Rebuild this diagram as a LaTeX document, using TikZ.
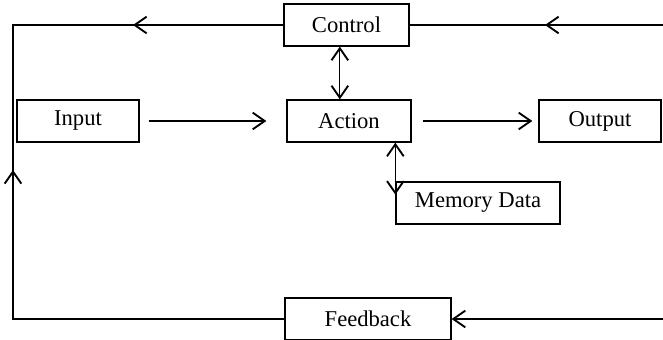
\documentclass[tikz,border=0pt]{standalone}
\usepackage{fontspec}
\setmainfont{Liberation Serif}
\usetikzlibrary{arrows.meta}

\begin{document}
\begin{tikzpicture}[x=0.03cm,y=-0.03cm,
  stage/.style={draw,line width=1.1pt,inner sep=0pt,minimum height=1.26cm,
    font=\fontsize{19.3}{23}\selectfont},
  link/.style={line width=1.1pt},
  barb/.style={link,-{Straight Barb[length=0.36cm,width=0.5cm,line width=1.6pt]}},
  barbs/.style={link,{Straight Barb[length=0.36cm,width=0.5cm,line width=1.6pt]}-{Straight Barb[length=0.36cm,width=0.5cm,line width=1.6pt]}}]

\useasboundingbox (0,0) rectangle (663,340);

% boxes
\node[stage,minimum width=3.75cm] (ctrl) at (346.5,25) {Control};
\node[stage,minimum width=3.66cm] (inp) at (78,121) {Input};
\node[stage,minimum width=3.72cm] (act) at (349,121) {Action};
\node[stage,minimum width=3.66cm] (outp) at (600,121) {Output};
\node[stage,minimum width=4.92cm] (mem) at (478,203) {Memory Data};
\node[stage,minimum width=4.98cm] (fb) at (368,319) {Feedback};

% loop corners and arrow points
\coordinate (tl) at (13,25);
\coordinate (bl) at (13,319);
\coordinate (tr) at (663,25);
\coordinate (br) at (663,319);
\coordinate (tla) at (133,25);
\coordinate (tra) at (545,25);
\coordinate (lfa) at (13,170);

% outer loop
\draw[link] (ctrl.west) -- (tl) -- (bl) -- (fb.west);
\draw[barb] (ctrl.west) -- (tla);
\draw[barb] (bl) -- (lfa);
\draw[link] (tr) -- (ctrl.east);
\draw[barb] (tr) -- (tra);
\draw[barb] (br) -- (fb.east);

% main flow
\draw[barb] ([xshift=0.27cm]inp.east) -- ([xshift=-0.6cm]act.west);
\draw[barb] ([xshift=0.33cm]act.east) -- ([xshift=-0.18cm]outp.west);
\draw[barbs] ([xshift=-0.2cm]ctrl.south) -- ([xshift=-0.2cm]ctrl.south |- act.north);
\draw[barbs] (act.south -| mem.west) -- ([yshift=-0.4cm]mem.north west);

\end{tikzpicture}
\end{document}
